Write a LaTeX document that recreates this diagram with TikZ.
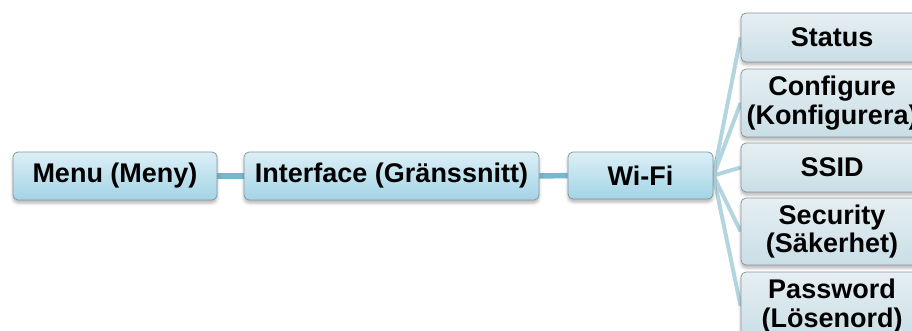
\documentclass[tikz,border=0pt]{standalone}
\usepackage{fontspec}
\setmainfont{Liberation Sans}
\usetikzlibrary{shadows.blur,backgrounds}
\definecolor{ltop}{HTML}{DCEFF6}
\definecolor{lbot}{HTML}{A2D4E6}
\definecolor{rtop}{HTML}{E6EFF2}
\definecolor{rbot}{HTML}{C9DEE6}
\definecolor{bord}{HTML}{8A979C}
\definecolor{mainline}{HTML}{78B8CE}
\definecolor{fanline}{HTML}{B3D5E0}
\tikzset{
  basebox/.style={draw=bord, line width=0.8pt, rounded corners=5pt, inner sep=0pt,
    align=center, font=\bfseries\fontsize{27}{28.5}\selectfont,
    blur shadow={shadow xshift=0pt, shadow yshift=-3pt, shadow blur radius=3pt, shadow opacity=30}},
  leftbox/.style={basebox, top color=ltop, bottom color=lbot},
  rightbox/.style={basebox, top color=rtop, bottom color=rbot, minimum width=182pt},
  mainconn/.style={draw=mainline, line width=5.5pt},
  fanconn/.style={draw=fanline, line width=4pt}
}
\begin{document}
\begin{tikzpicture}[x=1pt,y=-1pt]
\useasboundingbox (0,0) rectangle (912,331);
\clip (0,0) rectangle (912,331);
\node[leftbox, minimum width=204pt, minimum height=48pt] (menu) at (115,176) {Menu (Meny)};
\node[leftbox, minimum width=295pt, minimum height=48pt] (iface) at (391.5,176) {Interface (Gränssnitt)};
\node[leftbox, minimum width=145pt, minimum height=47pt] (wifi) at (640.5,175.5) {Wi-Fi};
\node[rightbox, minimum height=49pt] (status) at (832,37.5) {Status};
\node[rightbox, minimum height=68pt] (conf) at (832,103) {Configure\\(Konfigurera)};
\node[rightbox, minimum height=49pt] (ssid) at (832,167.5) {SSID};
\node[rightbox, minimum height=67pt] (sec) at (832,231.5) {Security\\(Säkerhet)};
\node[rightbox, minimum height=68pt] (pass) at (832,306) {Password\\(Lösenord)};
\begin{scope}[on background layer]
\draw[mainconn] (menu.east) -- (iface.west);
\draw[mainconn] (iface.east) -- (wifi.west);
\draw[fanconn] (wifi.east) -- (status.west);
\draw[fanconn] (wifi.east) -- (conf.west);
\draw[fanconn] (wifi.east) -- (ssid.west);
\draw[fanconn] (wifi.east) -- (sec.west);
\draw[fanconn] (wifi.east) -- (pass.west);
\end{scope}
\end{tikzpicture}
\end{document}
